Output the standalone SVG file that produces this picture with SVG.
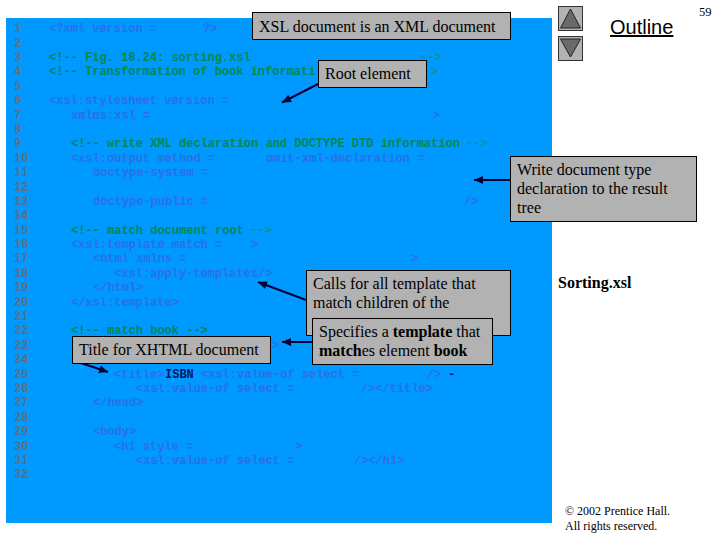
<svg xmlns="http://www.w3.org/2000/svg" width="720" height="540" viewBox="0 0 720 540">
<style>
.c{font-family:"Liberation Mono",monospace;font-size:12px;font-weight:bold;white-space:pre}
.n{fill:#5f6f80}.t{fill:#2a70e6}.g{fill:#00884f}.f{fill:#0f9488}.d{fill:#001a66}
.box{fill:#b2b2b2;stroke:#000;stroke-width:1}
.s{font-family:"Liberation Serif",serif;font-size:16px;fill:#000}
.a{stroke:#000033;stroke-width:2;fill:none;marker-end:url(#h)}
.nav{fill:#b2b2b2;stroke:#333;stroke-width:1}
.tri{fill:#6a6a6a;stroke:#222;stroke-width:1}
</style>
<defs><marker id="h" markerUnits="userSpaceOnUse" markerWidth="10" markerHeight="8" refX="9" refY="4" orient="auto"><path d="M0 0L9 4L0 8z" fill="#000033"/></marker></defs>
<rect width="720" height="540" fill="#fff"/>
<rect id="panel" x="6" y="18" width="546" height="505" fill="#0099ff"/>
<g id="code" class="c" transform="translate(0,-0.7)">
<g class="n">
<text x="14" y="33">1</text><text x="14" y="47.4">2</text><text x="14" y="61.8">3</text><text x="14" y="76.2">4</text><text x="14" y="90.5">5</text><text x="14" y="104.9">6</text><text x="14" y="119.3">7</text><text x="14" y="133.7">8</text><text x="14" y="148.1">9</text><text x="14" y="162.5">10</text><text x="14" y="176.9">11</text><text x="14" y="191.3">12</text><text x="14" y="205.7">13</text><text x="14" y="220">14</text><text x="14" y="234.4">15</text><text x="14" y="248.8">16</text><text x="14" y="263.2">17</text><text x="14" y="277.6">18</text><text x="14" y="292">19</text><text x="14" y="306.4">20</text><text x="14" y="320.8">21</text><text x="14" y="335.2">22</text><text x="14" y="349.5">23</text><text x="14" y="363.9">24</text><text x="14" y="378.3">25</text><text x="14" y="392.7">26</text><text x="14" y="407.1">27</text><text x="14" y="421.5">28</text><text x="14" y="435.9">29</text><text x="14" y="450.3">30</text><text x="14" y="464.7">31</text><text x="14" y="479">32</text>
</g>
<g class="t">
<text x="49" y="33">&lt;?xml version =</text><text x="203" y="33">?&gt;</text>
<text x="49" y="104.9">&lt;xsl:stylesheet version =</text>
<text x="71" y="119.3">xmlns:xsl =</text><text x="433" y="119.3">&gt;</text>
<text x="71" y="162.5">&lt;xsl:output method =</text><text x="266" y="162.5">omit-xml-declaration =</text>
<text x="93" y="176.9">doctype-system =</text>
<text x="93" y="205.7">doctype-public =</text><text x="464" y="205.7">/&gt;</text>
<text x="71" y="248.8">&lt;xsl:template match =</text><text x="251" y="248.8">&gt;</text>
<text x="93" y="263.2">&lt;html xmlns =</text><text x="411" y="263.2">&gt;</text>
<text x="114" y="277.6">&lt;xsl:apply-templates/&gt;</text>
<text x="93" y="292">&lt;/html&gt;</text>
<text x="71" y="306.4">&lt;/xsl:template&gt;</text>
<text x="272" y="349.5">&gt;</text>
<text x="114" y="378.3">&lt;title&gt;</text><text x="201" y="378.3">&lt;xsl:value-of select =</text><text x="427" y="378.3">/&gt;</text>
<text x="136" y="392.7">&lt;xsl:value-of select =</text><text x="361" y="392.7">/&gt;&lt;/title&gt;</text>
<text x="93" y="407.1">&lt;/head&gt;</text>
<text x="93" y="435.9">&lt;body&gt;</text>
<text x="114" y="450.3">&lt;h1 style =</text><text x="295" y="450.3">&gt;</text>
<text x="136" y="464.7">&lt;xsl:value-of select =</text><text x="354" y="464.7">/&gt;&lt;/h1&gt;</text>
</g>
<g class="g">
<text x="49" y="61.8">&lt;!-- Fig. 18.24: sorting.xsl</text>
<text x="49" y="76.2">&lt;!-- Transformation of book informati</text>
<text x="71" y="148.1">&lt;!-- write XML declaration and DOCTYPE DTD information</text>
<text x="71" y="234.4">&lt;!-- match document root</text>
<text x="71" y="335.2">&lt;!-- match book --&gt;</text>
</g>
<g class="f">
<text x="420" y="61.8">--&gt;</text><text x="416" y="76.2">--&gt;</text><text x="466" y="148.1">--&gt;</text><text x="250" y="234.4">--&gt;</text>
</g>
<g class="d">
<text x="165" y="378.3">ISBN</text><text x="448" y="378.3">-</text>
</g>
</g>
<g id="connectors">
<path class="a" d="M318 84L282 102.5"/>
<path class="a" d="M510 180H474"/>
<path class="a" d="M306 300L258 282"/>
<path class="a" d="M312 342H282"/>
<path class="a" d="M72 360L108 372"/>
</g>
<g id="note-xsl"><rect class="box" x="252.5" y="12.5" width="258" height="27"/><text class="s" x="259" y="32">XSL document is an XML document</text></g>
<g id="note-root"><rect class="box" x="318.5" y="60.5" width="108" height="27"/><text class="s" x="325" y="79">Root element</text></g>
<g id="note-write"><rect class="box" x="510.5" y="156.5" width="186" height="65"/><text class="s" x="517" y="175">Write document type</text><text class="s" x="517" y="194">declaration to the result</text><text class="s" x="517" y="213">tree</text></g>
<g id="note-calls"><rect class="box" x="306.5" y="270.5" width="204" height="65"/><text class="s" x="313" y="289">Calls for all template that</text><text class="s" x="313" y="308">match children of the</text></g>
<g id="note-specifies"><rect class="box" x="312.5" y="318.5" width="180" height="46"/><text class="s" x="319" y="337">Specifies a <tspan font-weight="bold">template</tspan> that</text><text class="s" x="319" y="356"><tspan font-weight="bold">match</tspan>es element <tspan font-weight="bold">book</tspan></text></g>
<g id="note-title"><rect class="box" x="72.5" y="336.5" width="198" height="27"/><text class="s" x="79" y="355">Title for XHTML document</text></g>
<g id="nav-up"><rect class="nav" x="558.5" y="6.5" width="24" height="24"/><path class="tri" d="M570.5 9L580.5 28H560.5z"/></g>
<g id="nav-down"><rect class="nav" x="558.5" y="36.5" width="24" height="24"/><path class="tri" d="M560.5 39H580.5L570.5 57z"/></g>
<text id="outline" x="610" y="34" font-family="Liberation Sans,sans-serif" font-size="20" text-decoration="underline">Outline</text>
<text id="page" x="699" y="16" font-family="Liberation Serif,serif" font-size="12.5">59</text>
<text id="file" x="558" y="288" font-family="Liberation Serif,serif" font-size="16" font-weight="bold">Sorting.xsl</text>
<g id="copyright" font-family="Liberation Serif,serif" font-size="12"><text x="565" y="514.5">© 2002 Prentice Hall.</text><text x="565" y="529.5">All rights reserved.</text></g>
</svg>
